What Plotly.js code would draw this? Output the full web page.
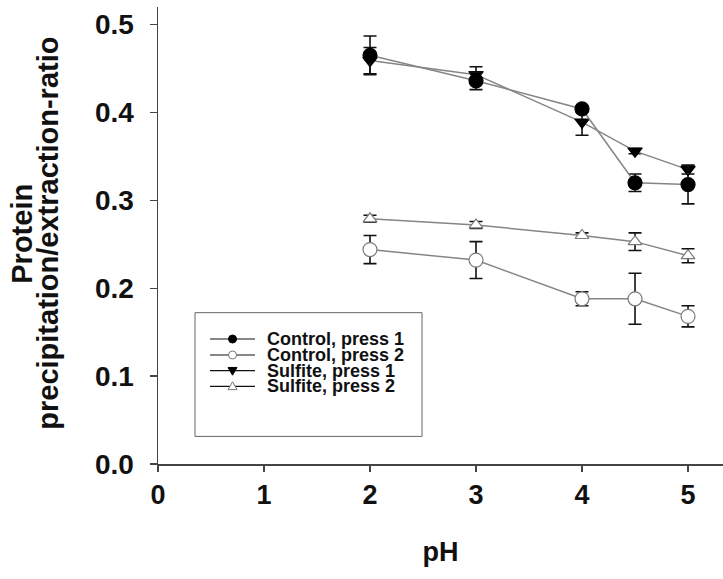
<!DOCTYPE html>
<html>
<head>
<meta charset="utf-8">
<script src="https://cdn.plot.ly/plotly-3.0.1.min.js"></script>
<style>html,body{margin:0;padding:0;background:#fff;}#chart{width:723px;height:579px;}</style>
</head>
<body>
<div id="chart"></div>
<script>
// pH values
const pH = [2, 3, 4, 4.5, 5];
const seriesNames = ["Control, press 1", "Control, press 2", "Sulfite, press 1", "Sulfite, press 2"];
// values
const controlPress1 = [0.465, 0.436, 0.404, 0.320, 0.318];
const controlPress1Err = [0.022, 0.010, 0.003, 0.010, 0.022];
const controlPress2 = [0.244, 0.232, 0.188, 0.188, 0.168];
const controlPress2Err = [0.016, 0.021, 0.008, 0.029, 0.012];
const sulfitePress1 = [0.459, 0.443, 0.389, 0.356, 0.335];
const sulfitePress1Err = [0.015, 0.009, 0.015, 0.003, 0.005];
const sulfitePress2 = [0.279, 0.272, 0.260, 0.253, 0.237];
const sulfitePress2Err = [0.004, 0.004, 0.003, 0.010, 0.008];
const xTicks = [0, 1, 2, 3, 4, 5];
const yTicks = [0.0, 0.1, 0.2, 0.3, 0.4, 0.5];
const yTickLabels = ["0.0", "0.1", "0.2", "0.3", "0.4", "0.5"];
const yTitleLines = ["Protein", "precipitation/extraction-ratio"];
const xTitle = "pH";

const lineColor = "#858585";
function dataTrace(y, err, symbol, size, fill, edge) {
  return {
    x: pH, y: y, type: "scatter", mode: "lines+markers", showlegend: false,
    line: {color: lineColor, width: 1.5},
    marker: {symbol: symbol, size: size, color: fill, line: {color: edge, width: 1.2}},
    error_y: {type: "data", array: err, visible: true, color: "#111", thickness: 1.6, width: 6.5},
    hoverinfo: "skip"
  };
}
const traces = [
  dataTrace(sulfitePress2, sulfitePress2Err, "triangle-up", 12, "#fff", "#7a7a7a"),
  dataTrace(controlPress2, controlPress2Err, "circle", 14, "#fff", "#7a7a7a"),
  dataTrace(sulfitePress1, sulfitePress1Err, "triangle-down", 12.5, "#000", "#000"),
  dataTrace(controlPress1, controlPress1Err, "circle", 14, "#000", "#000")
];

const boldFont = {family: "Liberation Sans, Arial, sans-serif", weight: "bold", color: "#111"};

// ---- hand-built legend (layout geometry only) ----
const legRowsY = [0.2735, 0.2385, 0.2042, 0.1698];
const legLineX0 = 0.092, legLineX1 = 0.1717, legSymX = 0.1319, legTextX = 0.1894;
const legendSymbols = ["circle", "circle", "triangle-down", "triangle-up"];
const legendFills = ["#000", "#fff", "#000", "#fff"];
const legendEdges = ["#000", "#777", "#000", "#777"];
const shapes = [{
  type: "rect", xref: "paper", yref: "paper",
  x0: 0.0655, x1: 0.4673, y0: 0.0604, y1: 0.3311,
  line: {color: "#666", width: 1}, fillcolor: "rgba(0,0,0,0)"
}];
const annotations = [];
seriesNames.forEach(function(name, i) {
  const yy = legRowsY[i];
  shapes.push({type: "line", xref: "paper", yref: "paper", x0: legLineX0, x1: legLineX1, y0: yy, y1: yy,
    line: {color: "#111", width: 1.2}});
  const common = {xref: "paper", yref: "paper", xsizemode: "pixel", ysizemode: "pixel",
    xanchor: legSymX, yanchor: yy, fillcolor: legendFills[i], line: {color: legendEdges[i], width: 1}};
  let sym;
  if (legendSymbols[i] === "circle") {
    sym = Object.assign({type: "circle", x0: -4, x1: 4, y0: -4, y1: 4}, common);
  } else if (legendSymbols[i] === "triangle-down") {
    sym = Object.assign({type: "path", path: "M-4.5,3.2 L4.5,3.2 L0,-4.5 Z"}, common);
  } else {
    sym = Object.assign({type: "path", path: "M-4.5,-3.2 L4.5,-3.2 L0,4.5 Z"}, common);
  }
  shapes.push(sym);
  annotations.push({xref: "paper", yref: "paper", x: legTextX, y: yy, xanchor: "left", yanchor: "middle",
    text: name, showarrow: false, font: Object.assign({size: 18}, boldFont)});
});
// y-axis title as two tightly spaced lines
annotations.push({xref: "paper", yref: "paper", x: -0.2406, y: 0.504, xanchor: "center", yanchor: "middle",
  text: yTitleLines[0], textangle: -90, showarrow: false, font: Object.assign({size: 29}, boldFont)});
annotations.push({xref: "paper", yref: "paper", x: -0.1946, y: 0.504, xanchor: "center", yanchor: "middle",
  text: yTitleLines[1], textangle: -90, showarrow: false, font: Object.assign({size: 29}, boldFont)});

const layout = {
  width: 723, height: 579,
  margin: {l: 158, r: 0, t: 7, b: 115},
  paper_bgcolor: "#fff", plot_bgcolor: "#fff",
  showlegend: false,
  xaxis: {
    range: [0, 5.33], tickvals: xTicks, ticktext: xTicks.map(String),
    showgrid: false, zeroline: false, showline: true, linecolor: "#444", linewidth: 1.5,
    ticks: "outside", ticklen: 6, tickwidth: 1.3, tickcolor: "#444",
    tickfont: Object.assign({size: 27}, boldFont),
    title: {text: xTitle, font: Object.assign({size: 27}, boldFont), standoff: 33}
  },
  yaxis: {
    range: [0, 0.52], tickvals: yTicks, ticktext: yTickLabels,
    showgrid: false, zeroline: false, showline: true, linecolor: "#444", linewidth: 1.5,
    ticks: "outside", ticklen: 7, tickwidth: 1.3, tickcolor: "#444",
    ticklabelstandoff: 10,
    tickfont: Object.assign({size: 28}, boldFont)
  },
  shapes: shapes,
  annotations: annotations
};
Plotly.newPlot("chart", traces, layout, {staticPlot: true});
</script>
</body>
</html>
